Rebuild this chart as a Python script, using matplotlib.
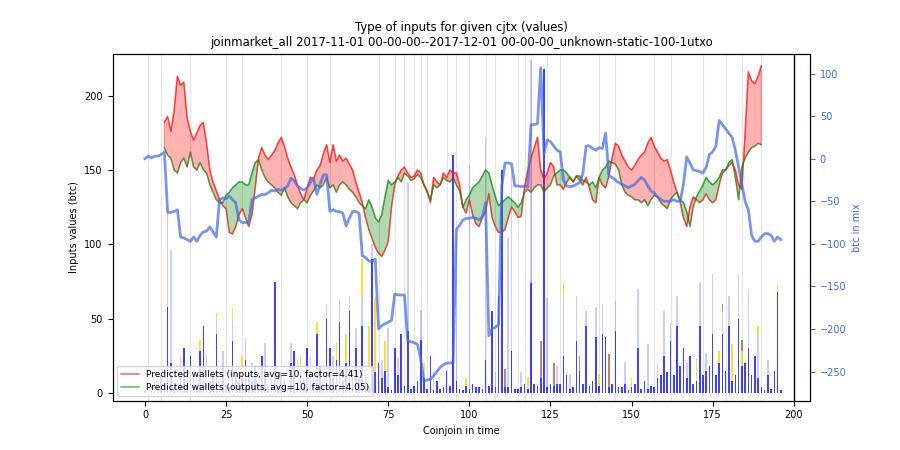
import numpy as np
import matplotlib.pyplot as plt

# wallets predicted from inputs / outputs, coinjoins 6..190
pred_x = list(range(6, 191))
pred_in = [182,186,176,190,213,207,209,185,176,170,
           175,180,182,168,150,142,136,130,126,124,
           108,107,112,120,124,118,112,120,138,158,
           165,160,157,160,163,168,172,166,158,152,
           147,140,134,130,138,145,144,150,153,161,
           167,155,167,156,160,156,158,154,150,142,
           135,128,118,110,104,98,94,92,96,102,
           125,140,146,150,152,148,145,146,150,148,
           140,136,128,145,142,140,148,145,150,148,
           148,140,125,121,130,120,114,112,118,122,
           134,118,112,108,108,110,118,125,122,118,
           119,138,150,158,165,172,150,144,148,155,
           152,140,140,137,142,145,142,146,143,140,
           145,138,130,128,145,140,138,146,158,168,
           166,160,156,152,150,153,157,160,162,168,
           172,166,162,158,156,157,150,142,135,128,
           118,112,125,132,130,128,130,134,130,128,
           130,140,148,150,153,155,150,140,137,175,
           216,210,208,213,220]
pred_out = [165,160,158,150,148,155,158,152,162,152,
            150,155,150,148,140,135,130,128,128,133,
            135,138,140,142,142,140,140,148,155,157,
            150,145,142,140,138,135,133,138,132,128,
            126,124,128,130,128,133,136,140,138,140,
            145,138,140,135,140,142,140,137,135,132,
            128,126,124,130,125,118,115,120,132,143,
            140,142,145,142,148,146,143,144,147,145,
            140,135,130,140,138,140,145,143,142,145,
            140,136,125,130,133,138,140,142,146,150,
            148,140,132,126,128,130,132,130,128,125,
            128,135,137,135,138,140,140,135,138,140,
            146,148,150,150,148,145,142,146,146,143,
            142,140,142,138,145,150,152,156,155,154,
            150,140,135,133,132,130,130,128,130,126,
            130,133,132,128,126,124,130,133,135,130,
            128,122,112,125,132,136,140,145,142,140,
            142,145,150,150,155,157,145,130,152,158,
            162,165,166,168,167]

# btc in mix (right axis), coinjoins 0..196
mix = [0,3,1,3,3,5,8,-63,-63,-62,
       -60,-92,-93,-95,-97,-92,-97,-90,-86,-85,
       -80,-86,-92,-48,-46,-47,-44,-48,-52,-72,
       -75,-75,-74,-48,-46,-44,-42,-42,-40,-37,
       -38,-36,-37,-35,-32,-23,-26,-32,-35,-37,
       -34,-28,-23,-42,-30,-19,-19,-62,-60,-62,
       -62,-64,-79,-70,-62,-62,-64,-114,-116,-120,
       -121,-118,-200,-196,-194,-192,-190,-159,-160,-160,
       -160,-214,-215,-216,-218,-235,-261,-260,-259,-255,
       -250,-245,-242,-240,-240,-239,-83,-78,-72,-70,
       -70,-69,-70,-72,-68,-52,-208,-200,-198,-195,
       -32,-5,-5,-6,-32,-32,-33,-32,-33,40,
       40,41,107,7,22,20,15,10,8,-25,
       -32,-33,-32,-30,-28,-17,15,15,12,10,
       13,12,30,-20,-22,-25,-28,-30,-32,-34,
       -32,-30,-26,-22,-25,-32,-38,-40,-45,-48,
       -50,-50,-50,-48,-50,-50,-30,2,-5,-13,
       -14,-15,-17,-10,5,8,15,45,40,35,
       30,25,10,-10,-30,-50,-60,-90,-97,-97,
       -92,-88,-88,-90,-97,-92,-95]

# input values per coinjoin (stacked bars)
val_main = [2,0,5,8,3,12,2,58,20,4, 3,10,30,5,25,12,3,28,45,6,
            8,12,40,3,18,6,4,35,15,8, 10,22,14,8,18,6,25,16,4,10,
            75,5,14,10,4,20,28,6,15,10, 30,12,8,40,18,6,50,30,10,22,
            48,8,20,55,14,30,10,45,12,5, 90,14,20,10,15,4,2,30,12,40,
            5,42,3,5,8,36,10,3,25,2, 8,3,4,15,5,160,8,3,2,5,
            3,6,4,4,3,22,5,55,4,65, 150,4,4,28,3,3,4,6,3,74,
            6,5,10,218,4,6,5,6,6,25,
            12,3,4,35,15,6,45,5,8,38, 5,40,38,4,6,42,4,4,6,2,
            4,6,30,3,8,3,5,4,10,12, 25,14,35,12,45,18,30,10,25,6,
            8,45,12,15,18,40,12,20,40,15, 45,8,12,50,18,20,30,12,25,10, 4,2,12,3,15,68,2]
light_idx = [3,7,8,11,13,16,19,22,24,27,31,33,37,41,45,47,51,56,58,60,63,65,67,70,73,75,78,81,85,
             89,96,100,105,108,112,113,116,119,124,127,129,131,133,136,139,141,145,148,152,155,
             158,160,162,164,167,171,173,175,178,180,183,186,189,192]
light_val = [10,60,76,15,10,12,20,8,10,12,15,12,18,10,14,16,12,10,15,15,10,14,20,10,12,40,12,100,20,
             12,95,150,150,10,100,120,10,150,60,12,40,10,30,10,20,20,20,15,40,30,
             10,30,12,20,10,30,12,40,15,20,30,40,30,10]
gold_idx = [7,17,22,27,30,35,44,48,53,59,62,67,69,71,74,86,99,118,129,140,150,170,177,181,184,189,195]
gold_val = [8,8,6,10,15,8,6,10,8,12,20,25,40,50,20,10,5,8,10,8,6,15,8,25,10,5,5]
brown_idx = [111,122,126,134,143,178,184]
brown_val = [12,25,15,10,22,5,8]

# grey separators
marks = [1,5,14,25,30,42,50,57,72,77,80,83,85,87,93,96,100,105,108,115,117,119,124,128,140,145,157,162,172,179,184,190]

plt.rcParams['font.size'] = 7
fig, ax = plt.subplots(figsize=(9, 4.5), dpi=100)

n = len(val_main)
x = np.arange(n)
light = np.zeros(n); light[light_idx] = light_val
gold = np.zeros(n); gold[gold_idx] = gold_val
brown = np.zeros(n); brown[brown_idx] = brown_val
main = np.array(val_main, dtype=float)

for m in marks:
    ax.axvline(m, color='lightgray', lw=0.8, alpha=0.6, zorder=0)

ax.bar(x, main, width=0.5, color='blue', alpha=0.75)
ax.bar(x, light, width=0.5, bottom=main, color='blue', alpha=0.2)
ax.bar(x, gold, width=0.5, bottom=main + light, color='gold', alpha=0.8)
ax.bar(x, brown, width=0.5, bottom=main + light + gold, color='sienna', alpha=0.7)

pi = np.array(pred_in, dtype=float)
po = np.array(pred_out, dtype=float)
ax.plot(pred_x, pi, color='red', alpha=0.6, lw=1.1, label='Predicted wallets (inputs, avg=10, factor=4.41)')
ax.plot(pred_x, po, color='green', alpha=0.6, lw=1.1, label='Predicted wallets (outputs, avg=10, factor=4.05)')
ax.fill_between(pred_x, pi, po, where=pi >= po, interpolate=True, color='red', alpha=0.3)
ax.fill_between(pred_x, pi, po, where=pi < po, interpolate=True, color='green', alpha=0.3)
ax.axvline(200, color='black', lw=1)

ax.set_xlim(-10, 205)
ax.set_ylim(-5, 228)
ax.set_xlabel('Coinjoin in time')
ax.set_ylabel('Inputs values (btc)')
ax.set_title('Type of inputs for given cjtx (values)\njoinmarket_all 2017-11-01 00-00-00--2017-12-01 00-00-00_unknown-static-100-1utxo')
ax.legend(loc='lower left', fontsize=6.5)

ax2 = ax.twinx()
ax2.plot(x, mix, color='royalblue', alpha=0.7, lw=2)
ax2.set_ylim(-284, 123)
ax2.set_ylabel('btc in mix', color='royalblue')
ax2.tick_params(axis='y', colors='royalblue')

plt.savefig('out.png', dpi=100)
